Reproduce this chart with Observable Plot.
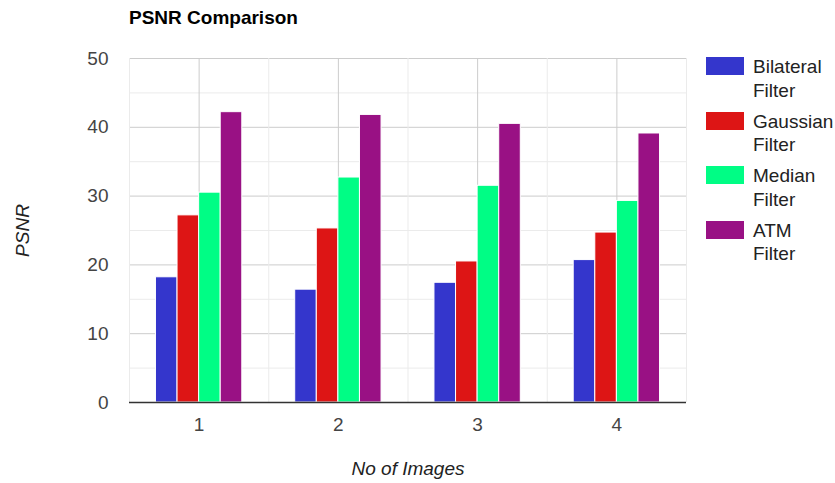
<!DOCTYPE html>
<html>
<head>
<meta charset="utf-8">
<script src="https://cdn.jsdelivr.net/npm/d3@7"></script>
<script src="https://cdn.jsdelivr.net/npm/@observablehq/plot@0.6"></script>
<style>
  body { margin: 0; background: #fff; font-family: "Liberation Sans", Arial, sans-serif; }
  #wrap { position: relative; width: 835px; height: 483px; }
  #title { position: absolute; left: 129px; top: 8px; font-size: 19px; font-weight: bold; color: #000; line-height: 19px; }
  #legend { position: absolute; left: 706px; top: 57px; font-size: 19px; color: #222; }
  .entry { position: relative; height: 54.5px; }
  .swatch { position: absolute; left: 0; top: 0; width: 38px; height: 18px; }
  .name { position: absolute; left: 47px; top: -2px; width: min-content; line-height: 23.5px; }
</style>
</head>
<body>
<div id="wrap">
  <div id="title">PSNR Comparison</div>
  <div id="legend"></div>
</div>
<script>
// PSNR per test image for each denoising filter
const images = [1, 2, 3, 4];
const filters = ["Bilateral Filter", "Gaussian Filter", "Median Filter", "ATM Filter"];
const bilateral = [18.2, 16.4, 17.4, 20.7];
const gaussian = [27.2, 25.3, 20.5, 24.7];
const median = [30.5, 32.7, 31.5, 29.3];
const atm = [42.2, 41.8, 40.5, 39.1];
const colors = ["#3436cc", "#dd1515", "#00fd85", "#991184"];
const yTicks = [0, 10, 20, 30, 40, 50];

const series = [bilateral, gaussian, median, atm];
const barW = 0.155; // width of one bar in image units
const rows = [];
series.forEach((vals, k) => {
  images.forEach((img, i) => {
    const x1 = img + (k - 2) * barW;
    rows.push({ image: img, filter: filters[k], value: vals[i], x1, x2: x1 + barW });
  });
});

const minorY = d3.range(5, 50, 10);
const minorX = d3.range(0.5, 4.51, 1);

const chart = Plot.plot({
  width: 835,
  height: 483,
  marginLeft: 129,
  marginRight: 149,
  marginTop: 58,
  marginBottom: 81,
  style: { fontFamily: "Liberation Sans, Arial, sans-serif", fontSize: "19px", background: "transparent" },
  x: { domain: [0.5, 4.5] },
  y: { domain: [0, 50] },
  color: { domain: filters, range: colors },
  marks: [
    Plot.ruleY(minorY, { stroke: "#ebebeb", strokeWidth: 1 }),
    Plot.ruleY(yTicks.slice(1), { stroke: "#cccccc", strokeWidth: 1 }),
    Plot.ruleX(minorX, { stroke: "#ebebeb", strokeWidth: 1 }),
    Plot.ruleX(images, { stroke: "#cccccc", strokeWidth: 1 }),
    Plot.rectY(rows, { x1: "x1", x2: "x2", y: "value", fill: "filter", stroke: "white", strokeWidth: 1 }),
    Plot.ruleY([0], { stroke: "#333", strokeWidth: 1.5 }),
    Plot.axisY({ ticks: yTicks, tickSize: 0, tickPadding: 21, label: null, fill: "#444" }),
    Plot.axisX({ ticks: images, tickSize: 0, tickPadding: 15, tickFormat: d3.format("d"), label: null, fill: "#444" }),
    Plot.text(["PSNR"], { frameAnchor: "left", textAnchor: "middle", rotate: -90, dx: -107, fontStyle: "italic", fill: "#222", fontSize: 19 }),
    Plot.text(["No of Images"], { frameAnchor: "bottom", dy: 72, fontStyle: "italic", fill: "#222", fontSize: 19 })
  ]
});
chart.style.position = "absolute";
chart.style.left = "0";
chart.style.top = "0";
document.getElementById("wrap").prepend(chart);

const legend = document.getElementById("legend");
filters.forEach((f, k) => {
  const e = document.createElement("div");
  e.className = "entry";
  e.innerHTML = `<div class="swatch" style="background:${colors[k]}"></div><div class="name">${f}</div>`;
  legend.appendChild(e);
});
</script>
</body>
</html>
